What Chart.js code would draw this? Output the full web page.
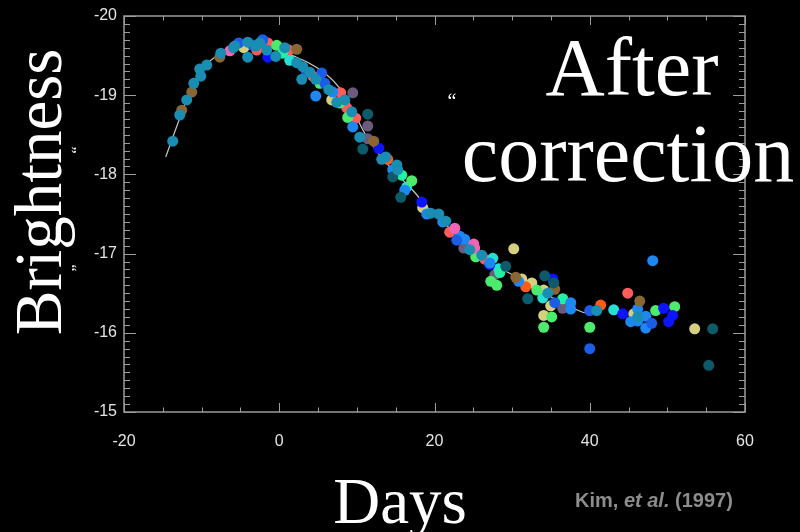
<!DOCTYPE html>
<html>
<head>
<meta charset="utf-8">
<script src="https://cdn.jsdelivr.net/npm/chart.js@4/dist/chart.umd.min.js"></script>
<style>
  html, body { margin: 0; padding: 0; background: #000; }
  canvas { display: block; }
</style>
</head>
<body>
<canvas id="lc" width="800" height="532"></canvas>
<script>
// ─── Data: [day, brightness] ─────────────────────────────────────────────────

const xTicks = [-20, 0, 20, 40, 60];
const yTicks = [-20, -19, -18, -17, -16, -15];

// template curve (white line)
const curveDays = [-14.62, -12.82, -11.14, -9.6, -7.66, -5.73, -3.8, -1.87, 0.06, 2.0, 3.93, 5.86,
  7.79, 9.34, 11.01, 12.95, 14.88, 17.2, 19.39, 21.96, 24.28, 27.12, 30.08, 33.56, 36.13, 39.1, 40.0];
const curveMag = [-18.22, -18.71, -19.13, -19.37, -19.52, -19.61, -19.65, -19.62, -19.57, -19.49, -19.4, -19.28,
  -19.09, -18.84, -18.52, -18.24, -18.03, -17.8, -17.55, -17.32, -17.13, -16.89, -16.73, -16.54, -16.39, -16.26, -16.25];

const teal = [[-13.72, -18.42], [-12.82, -18.75], [-11.92, -18.94], [-11.01, -19.15], [-10.11, -19.24],
  [-10.24, -19.33], [-9.34, -19.38], [-7.53, -19.53], [-5.9, -19.6], [-5.73, -19.62], [-4.06, -19.67],
  [-4.06, -19.48], [-3.03, -19.62], [-2.51, -19.66], [-1.61, -19.57], [-0.45, -19.49], [0.71, -19.6],
  [2.25, -19.41], [3.03, -19.36], [2.9, -19.2], [3.93, -19.29], [4.7, -19.2], [6.38, -19.07],
  [7.41, -18.91], [8.44, -18.94], [9.34, -18.79], [10.37, -18.47], [13.2, -18.19], [13.72, -18.22],
  [15.14, -18.12], [15.26, -18.06], [19.52, -17.51], [20.55, -17.5], [21.45, -17.41], [24.54, -17.05],
  [26.09, -16.98], [34.59, -16.5], [40.9, -16.28], [46.18, -16.2]];
const darkTeal = [[11.4, -18.76], [10.76, -18.32], [14.62, -17.97], [15.65, -17.71], [29.18, -16.84],
  [32.01, -16.43], [34.2, -16.72], [35.36, -16.63], [55.84, -16.05], [55.33, -15.59]];
const brown = [[-12.56, -18.81], [-11.27, -19.04], [-7.66, -19.48], [2.25, -19.58], [12.17, -18.42],
  [30.47, -16.7], [35.49, -16.55], [46.44, -16.4]];
const pink = [[-6.37, -19.56], [22.61, -17.32], [25.06, -17.12], [25.18, -17.07]];
const royal = [[-5.21, -19.66], [-3.41, -19.63], [-2.13, -19.7], [3.54, -19.29], [5.47, -19.28],
  [5.86, -19.15], [22.87, -17.17], [35.49, -16.38], [40.0, -16.28], [40.0, -15.8], [47.98, -16.12]];
const dodger = [[4.7, -18.99], [6.89, -19.04], [9.47, -18.6], [14.62, -18.06], [16.17, -17.8],
  [19.0, -17.5], [21.06, -17.4], [23.25, -17.22], [23.9, -17.18], [27.12, -16.88], [30.85, -16.65],
  [37.55, -16.38], [37.55, -16.3], [48.11, -16.91], [46.18, -16.3], [47.21, -16.21], [45.28, -16.14],
  [46.18, -16.15], [47.21, -16.06]];
const pureBlue = [[-1.48, -19.48], [12.82, -18.33], [18.36, -17.65], [27.12, -16.86], [35.23, -16.68],
  [44.25, -16.24], [49.52, -16.31], [50.68, -16.22], [50.17, -16.14]];
const green = [[-0.32, -19.63], [5.22, -19.15], [7.79, -18.9], [8.82, -18.72], [17.07, -17.92],
  [25.31, -16.96], [27.25, -16.65], [28.02, -16.6], [33.17, -16.54], [35.1, -16.2], [34.07, -16.07],
  [40.0, -16.07], [48.49, -16.28], [50.94, -16.33]];
const mint = [[0.45, -19.53], [15.78, -17.99], [28.41, -16.76], [36.52, -16.43]];
const aqua = [[1.35, -19.44], [16.42, -17.84], [27.51, -16.94], [28.28, -16.81], [33.95, -16.44],
  [43.09, -16.29]];
const red = [[-2.9, -19.57], [-1.48, -19.66], [1.22, -19.57], [4.32, -19.24], [7.92, -19.03],
  [8.7, -18.84], [9.85, -18.71], [21.96, -17.27], [26.47, -16.93], [44.89, -16.5]];
const orange = [[13.98, -18.19], [31.75, -16.58], [41.41, -16.35]];
const yellow = [[-4.57, -19.6], [6.76, -18.94], [18.48, -17.58], [30.21, -17.06], [31.24, -16.68],
  [32.53, -16.63], [34.07, -16.54], [34.97, -16.34], [34.07, -16.22], [45.67, -16.24], [53.52, -16.05]];
const grayPurple = [[9.47, -19.03], [11.4, -18.61], [11.4, -18.45], [23.77, -17.07], [27.76, -16.73],
  [36.52, -16.31]];

// ─── Styling ─────────────────────────────────────────────────────────────────

const groups = [
  [teal, "#1a8db3"], [darkTeal, "#0d5a6b"], [brown, "#8a6632"], [pink, "#f064b4"],
  [royal, "#1b5de6"], [dodger, "#1e87f2"], [pureBlue, "#0c14ff"], [green, "#4deb6d"],
  [mint, "#22f0a2"], [aqua, "#26e0d6"], [red, "#ff5c5c"], [orange, "#ff5a16"],
  [yellow, "#d5d07e"], [grayPurple, "#6a5b7c"],
];

const datasets = groups.map(([pts, color]) => ({
  type: "scatter",
  data: pts.map(([x, y]) => ({ x, y })),
  backgroundColor: color,
  borderWidth: 0,
  pointRadius: 5.5,
  order: 1,
}));

datasets.push({
  type: "line",
  data: curveDays.map((d, i) => ({ x: d, y: curveMag[i] })),
  borderColor: "#c8c8c8",
  borderWidth: 1.2,
  pointRadius: 0,
  tension: 0.3,
  fill: false,
  order: 10,
});

// frame with inward ticks + all the free text
const framePlugin = {
  id: "frame",
  afterDraw(chart) {
    const ctx = chart.ctx;
    const { left, right, top, bottom } = chart.chartArea;
    const xs = chart.scales.x, ys = chart.scales.y;
    ctx.save();
    ctx.strokeStyle = "#9c9c9c";
    ctx.lineWidth = 1.5;
    ctx.strokeRect(left, top, right - left, bottom - top);
    ctx.lineWidth = 1;
    ctx.beginPath();
    for (let v = -20; v <= 60; v += 5) {
      const px = Math.round(xs.getPixelForValue(v)) + 0.5;
      const len = v % 20 === 0 ? 9 : 4.5;
      ctx.moveTo(px, bottom); ctx.lineTo(px, bottom - len);
      ctx.moveTo(px, top); ctx.lineTo(px, top + len);
    }
    for (let i = 0; i <= 50; i++) {
      const py = Math.round(ys.getPixelForValue(-20 + i * 0.1)) + 0.5;
      const len = i % 10 === 0 ? 12 : 6;
      ctx.moveTo(left, py); ctx.lineTo(left + len, py);
      ctx.moveTo(right, py); ctx.lineTo(right - len, py);
    }
    ctx.stroke();

    // tick labels
    ctx.fillStyle = "#e4e4e4";
    ctx.font = '16px "Liberation Sans", Arial, sans-serif';
    ctx.textAlign = "right";
    ctx.textBaseline = "middle";
    yTicks.forEach((v) => ctx.fillText(String(v), left - 7, ys.getPixelForValue(v)));
    ctx.textAlign = "center";
    xTicks.forEach((v) => ctx.fillText(String(v), xs.getPixelForValue(v), bottom + 30));

    // big serif labels
    ctx.fillStyle = "#ffffff";
    ctx.textBaseline = "alphabetic";
    ctx.font = '65px "Liberation Serif", "DejaVu Serif", serif';
    ctx.fillText("Days", 400, 523);
    ctx.font = '82px "Liberation Serif", "DejaVu Serif", serif';
    ctx.fillText("After", 632, 95);
    ctx.fillText("correction", 628, 181);
    ctx.font = '20px "Liberation Serif", serif';
    ctx.fillText("\u201C", 452, 108);

    ctx.save();
    ctx.translate(61, 192);
    ctx.rotate(-Math.PI / 2);
    ctx.font = '67px "Liberation Serif", "DejaVu Serif", serif';
    ctx.fillText("Brightness", 0, 0);
    ctx.font = '16px "Liberation Serif", serif';
    ctx.fillText("\u201D", -76, 22);
    ctx.fillText("\u201C", 42, 22);
    ctx.restore();

    // citation
    ctx.textAlign = "left";
    ctx.fillStyle = "#8c8c8c";
    ctx.font = 'bold 20px "Liberation Sans", Arial, sans-serif';
    let x = 575;
    const part1 = "Kim, ", part2 = "et al.", part3 = " (1997)";
    ctx.fillText(part1, x, 507);
    x += ctx.measureText(part1).width;
    ctx.font = 'italic bold 20px "Liberation Sans", Arial, sans-serif';
    ctx.fillText(part2, x, 507);
    x += ctx.measureText(part2).width;
    ctx.font = 'bold 20px "Liberation Sans", Arial, sans-serif';
    ctx.fillText(part3, x, 507);
    ctx.restore();
  },
};

new Chart(document.getElementById("lc"), {
  data: { datasets },
  options: {
    responsive: false,
    animation: false,
    layout: { padding: { left: 124, right: 55, top: 16, bottom: 120 } },
    plugins: { legend: { display: false }, tooltip: { enabled: false } },
    scales: {
      x: { type: "linear", min: -20, max: 60, display: false },
      y: { type: "linear", min: -20, max: -15, reverse: true, display: false },
    },
  },
  plugins: [framePlugin],
});
</script>
</body>
</html>
